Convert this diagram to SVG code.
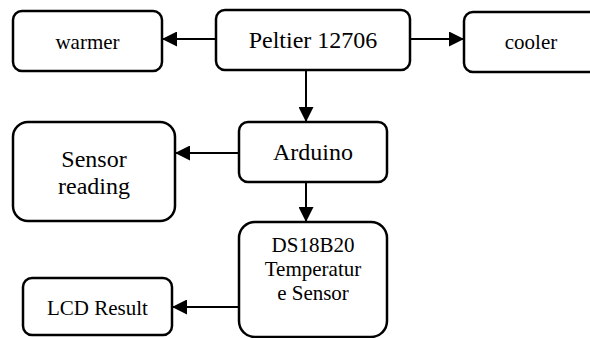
<svg xmlns="http://www.w3.org/2000/svg" width="590" height="338" viewBox="0 0 590 338">
<style>
.box{fill:#fff;stroke:#000;stroke-width:2.5}
.t{font-family:'Liberation Serif','Times New Roman','DejaVu Serif',serif;fill:#000;text-anchor:middle}
.c{stroke:#000;stroke-width:2;fill:none;marker-end:url(#ah)}
</style>
<defs>
<marker id="ah" markerUnits="userSpaceOnUse" markerWidth="15" markerHeight="15" refX="14" refY="7.5" orient="auto">
<path d="M0,0 L15,7.5 L0,15 Z" fill="#000"/>
</marker>
</defs>
<g id="connectors">
<line class="c" x1="216" y1="39" x2="163" y2="39"/>
<line class="c" x1="410" y1="39" x2="463" y2="39"/>
<line class="c" x1="306" y1="70" x2="306" y2="121"/>
<line class="c" x1="239" y1="153" x2="176" y2="153"/>
<line class="c" x1="306" y1="182" x2="306" y2="221"/>
<line class="c" x1="239" y1="307" x2="173" y2="307"/>
</g>
<g id="warmer">
<rect class="box" x="13" y="11" width="149" height="60" rx="9"/>
<text class="t" x="87.5" y="49" font-size="21">warmer</text>
</g>
<g id="peltier">
<rect class="box" x="216" y="10" width="194" height="60" rx="9"/>
<text class="t" x="313" y="48" font-size="24">Peltier 12706</text>
</g>
<g id="cooler">
<rect class="box" x="464" y="12" width="134" height="60" rx="9"/>
<text class="t" x="531" y="49" font-size="21">cooler</text>
</g>
<g id="arduino">
<rect class="box" x="239" y="122" width="148" height="60" rx="9"/>
<text class="t" x="313" y="160" font-size="24">Arduino</text>
</g>
<g id="sensor-reading">
<rect class="box" x="13" y="122" width="162" height="99" rx="15"/>
<text class="t" x="94" y="167" font-size="24">Sensor</text>
<text class="t" x="94" y="194" font-size="24">reading</text>
</g>
<g id="ds18b20">
<rect class="box" x="239" y="222" width="148" height="115" rx="16"/>
<text class="t" x="313" y="252" font-size="21">DS18B20</text>
<text class="t" x="313" y="276" font-size="21">Temperatur</text>
<text class="t" x="313" y="300" font-size="21">e Sensor</text>
</g>
<g id="lcd">
<rect class="box" x="23" y="278" width="149" height="57" rx="9"/>
<text class="t" x="97.5" y="315" font-size="21">LCD Result</text>
</g>
</svg>
